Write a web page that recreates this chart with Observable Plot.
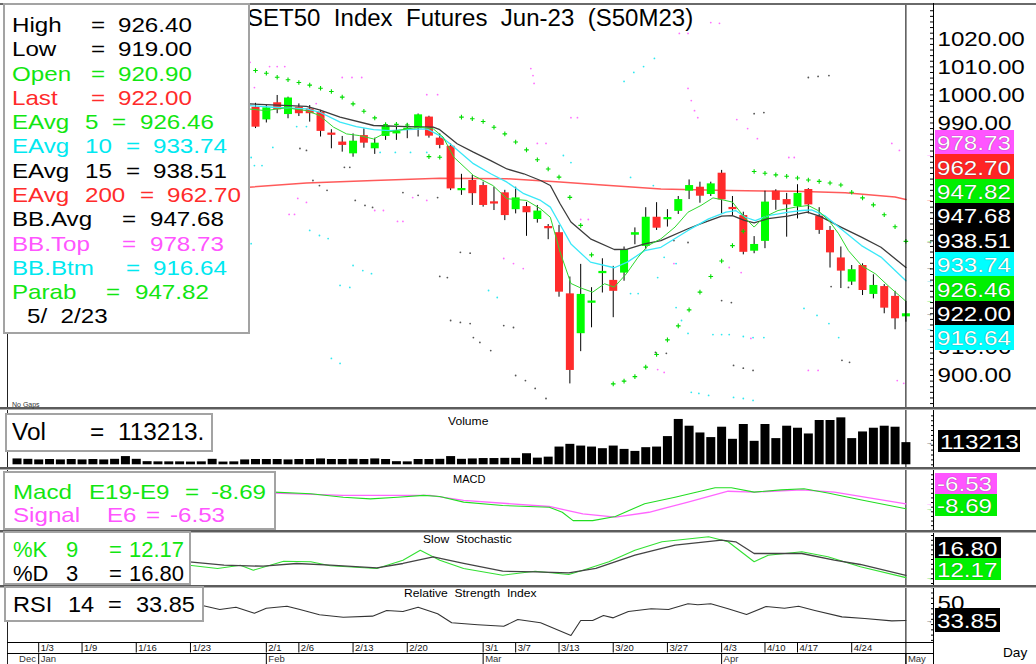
<!DOCTYPE html>
<html>
<head>
<meta charset="utf-8">
<script src="https://cdn.jsdelivr.net/npm/d3@7"></script>
<script src="https://cdn.jsdelivr.net/npm/@observablehq/plot@0.6"></script>
<style>
  html,body{margin:0;padding:0;background:#fff;}
  #chart{position:relative;width:1036px;height:664px;overflow:hidden;background:#fff;font-family:"Liberation Sans",Arial,Helvetica,sans-serif;}
  #chart svg{position:absolute;left:0;top:0;overflow:visible;}
  .t{position:absolute;white-space:pre;transform-origin:0 50%;}
  .box{position:absolute;box-sizing:border-box;background:#fff;}
  .ln{position:absolute;}
</style>
</head>
<body>
<div id="chart"></div>
<script>
// ================= DATA =================
// trading-day index: 0 = 1/3/2023 ... 80 = 5/2/2023
const candleIdx = d3.range(20, 81);
const opens = [995.6,991.1,997.2,993.0,995.6,995.0,993.9,986.4,983.2,979.0,
  985.5,980.8,985.2,986.1,987.5,987.9,992.1,984.6,981.7,965.9,
  969.5,967.7,961.8,965.1,959.1,960.2,955.6,953.1,950.9,929.1,
  914.9,925.8,936.3,933.9,936.5,950.0,946.0,956.4,955.6,958.5,
  965.7,967.1,964.5,972.1,959.8,957.0,944.3,947.8,965.7,962.7,
  960.2,966.3,956.8,951.7,941.9,933.3,939.2,928.9,931.7,928.2,920.9];
const highs = [997.0,996.2,999.8,999.2,996.8,996.2,994.5,987.6,985.2,986.1,
  987.9,984.6,989.7,989.1,989.7,993.2,992.4,986.1,982.5,971.7,
  971.3,968.9,967.1,966.0,967.1,961.7,960.6,953.8,953.5,935.1,
  939.6,931.3,941.6,938.9,945.8,952.6,959.8,961.6,959.1,963.8,
  969.7,968.9,968.9,973.1,963.8,958.2,949.5,965.7,966.2,964.9,
  968.0,966.6,959.8,953.1,945.8,939.2,939.8,935.9,932.4,930.0,926.4];
const lows = [988.0,990.0,993.3,991.5,992.3,990.3,985.0,980.8,979.6,977.8,
  981.0,978.8,983.8,983.8,984.4,985.0,984.6,980.8,965.9,964.2,
  960.6,960.0,958.8,955.2,957.6,949.6,954.3,948.4,927.9,897.0,
  908.5,917.0,929.4,920.6,933.6,946.6,944.8,951.7,952.9,957.4,
  962.7,961.4,963.8,957.6,957.0,943.0,943.4,945.2,958.9,949.3,
  955.8,957.6,950.3,938.3,931.0,932.1,928.5,927.3,922.0,916.3,919.0];
const closes = [988.5,995.4,994.7,998.9,993.3,993.3,987.0,985.6,982.0,983.5,
  982.8,982.8,988.9,987.0,988.0,992.9,985.3,982.0,966.5,966.6,
  964.8,960.6,961.2,957.0,963.3,958.0,958.6,952.3,929.7,901.8,
  928.9,926.5,937.1,930.0,944.8,950.9,956.4,952.5,956.2,962.7,
  967.7,963.9,968.3,962.6,959.2,943.9,946.7,961.8,962.4,960.8,
  964.9,960.8,951.7,943.7,937.2,937.7,930.3,932.1,924.0,920.2,922.0];

// moving averages: [day index, price]
const ema5 = [[19.4,995.0],[20.9,994.4],[22.8,995.4],[24.7,994.4],[25.9,992.7],[27.2,988.5],[28.4,986.1],[29.6,985.5],[30.9,984.3],[32.1,986.7],[34,987.9],[35.2,988.5],[36.4,987.9],[37.3,985.0],[38.3,977.8],[40.1,971.3],[41.9,967.7],[43.2,963.0],[45.0,962.4],[46.3,959.4],[47.2,956.4],[48.1,944.0],[49.1,932.8],[50,931.2],[51.1,929.7],[52.2,932.7],[53.1,931.5],[54.2,936.2],[55.3,942.2],[56.2,946.3],[57.4,948.7],[58.7,952.9],[59.9,958.2],[61.1,960.6],[62.2,963.3],[63.1,962.6],[64,961.8],[65.1,956.4],[66,952.9],[66.9,956.4],[68.2,958.8],[69.8,960.0],[71,960.6],[71.9,958.8],[72.9,955.2],[73.8,950.5],[74.7,944.5],[75.9,939.2],[77.2,936.2],[78.5,931.5],[80,926.46]];
const ema10 = [[19.4,996.2],[21.6,995.6],[24.7,995.0],[25.9,993.9],[27.8,990.3],[29.3,988.7],[30.9,987.6],[32.4,987.3],[34,987.6],[35.8,987.9],[37,985.5],[38.3,981.4],[40.1,975.5],[41.7,971.9],[43.2,968.9],[44.75,964.8],[46.3,962.4],[47.2,960.0],[48.1,953.8],[49.1,946.9],[50.9,940.4],[53.1,938.4],[54.3,940.4],[55.9,944.5],[57.4,945.7],[59.9,951.7],[61.8,955.8],[63.4,958.2],[64.3,958.8],[65.2,956.4],[66.1,955.2],[67.3,957.0],[69.2,958.2],[70.4,958.8],[71.3,959.0],[72.5,957.0],[74.0,952.3],[75.9,946.3],[77.7,942.2],[80,933.74]];
const ema15 = [[19.4,996.8],[24.7,995.9],[25.9,994.7],[27.8,992.1],[30.9,989.1],[34,988.7],[36.4,988.5],[37,987.6],[38.6,982.6],[40.1,979.6],[41.7,976.6],[43.2,973.6],[44.75,971.9],[46.3,969.5],[47.2,967.7],[48.1,961.2],[49.1,954.7],[50.9,948.7],[53.1,944.9],[54.3,945.0],[55.9,946.9],[57.4,948.1],[59.9,952.3],[61.1,954.1],[63,956.8],[64,957.0],[65.1,955.3],[66,954.4],[67.3,955.9],[69.1,956.8],[70.9,958.2],[72.1,956.7],[74,952.9],[75.9,949.3],[77.7,945.7],[80,938.51]];
const ema200 = [[19.4,967.1],[24.7,968.6],[30.9,969.5],[37,970.3],[43.2,970.1],[48.1,969.0],[52,967.9],[57.4,966.5],[63.6,965.9],[69.8,965.7],[74.4,965.1],[79,963.6],[80,962.7]];

// parabolic SAR: day index, value
const sarIdx = [20,21,22,23,24,25,26,27,28,29,30,31,32,33,34,36,37,39,40,41,42,43,44,45,46,47,48,49,50,51,53,54,55,56,57,58,59,60,61,62,63,64,65,66,67,68,69,70,71,72,73,74,75,76,77,78,79,80];
const sarVal = [1008.7,1007.7,1006.3,1005.4,1004.4,1003.5,1002.4,1001.2,999.2,996.8,994.2,991.8,989.4,989.5,989.3,978.0,977.8,992.1,991.5,990.5,988.5,986.1,983.2,980.4,976.9,973.6,970.7,963.5,953.5,943.0,897.0,898.0,899.6,903.0,907.5,912.7,917.7,923.4,929.7,935.3,940.8,946.3,951.4,972.7,972.1,971.5,971.0,970.4,969.7,969.2,968.6,967.9,965.3,963.3,960.8,957.3,953.0,947.82];

// Bollinger dotted traces as seen: [day index, price]
const bbTopDots = [[19.5,1011.6],[21.3,1010.1],[22.0,1010.1],[22.7,1010.1],[19.9,1002.6],[25.6,996.9],[28.0,1006.2],[28.9,1006.2],[29.8,1006.2],[35.8,1000.1],[36.8,1000.1],[45.4,1009.4],[45.6,1006.9],[45.7,1004.1],[23.9,963.1],[24.7,961.7],[23.1,957.4],[23.6,957.4],[31.0,958.8],[31.8,958.8],[33.1,954.9],[33.6,954.9],[34.5,963.4],[35.8,962.4],[42.9,941.7],[43.8,939.9],[44.7,938.1],[62.0,1025.8],[62.8,1025.5],[59.1,1021.9],[59.9,1021.9],[49.1,991.9],[49.7,991.9],[46.0,982.7],[46.8,982.7],[59.9,1002.3],[60.2,998.0],[60.5,994.4],[60.8,991.9],[64.4,991.2],[65.4,988.0],[66.3,984.4],[69.2,977.7],[69.7,977.7],[78.7,982.7],[79.4,980.2],[50.0,955.6],[50.7,955.6],[58.6,939.9],[63.7,938.5],[64.8,936.7],[57.1,902.1],[57.7,901.1],[65.7,913.2],[71.0,901.8],[71.9,901.8],[79.2,898.2],[79.8,897.2]];
const bbBtmDots = [[19.6,977.7],[21.6,981.3],[23.8,988.7],[24.7,988.7],[19.9,974.8],[20.6,974.8],[19.6,947.0],[25.0,951.7],[25.9,949.9],[26.7,948.8],[29.0,939.2],[29.9,937.4],[30.7,936.3],[27.8,932.1],[28.7,931.4],[27.0,906.1],[27.8,904.3],[31.5,979.5],[32.9,979.5],[34.3,979.5],[35.8,979.5],[41.5,930.3],[42.3,927.8],[49.1,975.9],[54.6,970.6],[56.7,967.7],[57.7,942.1],[58.8,939.9],[57.1,934.9],[54.6,929.2],[55.3,929.2],[58.8,924.2],[59.3,919.6],[59.9,915.0],[60.2,894.0],[60.9,893.6],[61.8,892.9],[62.2,914.6],[63.0,914.6],[63.7,914.6],[65.0,913.9],[65.9,913.5],[66.9,913.5],[64.1,892.2],[65.0,891.8],[65.9,891.1],[70.6,923.9],[71.8,921.4],[72.9,918.5],[73.8,913.5],[54.0,1004.8],[54.9,1008.0],[55.8,1010.1],[56.8,1013.0],[48.4,978.4]];
const bbAvgDots = [[24.1,980.9],[24.7,980.2],[28.2,974.2],[28.7,974.2],[25.3,969.5],[25.9,967.7],[26.6,966.0],[29.2,962.4],[30.1,960.6],[30.8,959.9],[33.6,965.2],[35.0,964.2],[36.8,963.4],[37.0,935.3],[37.7,934.9],[38.0,919.6],[38.9,918.9],[39.8,918.5],[38.9,943.9],[39.8,943.6],[40.1,913.5],[40.7,911.8],[41.7,908.9],[42.9,917.8],[43.8,917.1],[44.0,900.0],[44.9,898.2],[45.8,895.4],[46.8,891.8],[71.0,1006.2],[71.9,1006.6],[72.9,1006.9],[66.0,993.3],[66.9,993.7],[58.6,948.1],[59.9,947.4],[63.0,926.7],[63.9,926.0],[64.1,903.6],[65.0,902.6],[65.9,901.8],[73.1,931.7],[74.7,931.4],[74.1,905.4],[74.8,904.7],[56.9,908.2],[57.9,907.9]];

// volume (from 12/29 = index -2)
const volIdx = d3.range(-2, 81);
const volumes = [30000,28000,25000,27000,25000,27000,25000,27000,25000,28000,42000,28000,
  16000,15000,15000,15000,14000,15000,28000,14000,15000,25000,
  27000,27000,27000,25000,27000,27000,30000,27000,27000,28000,
  27000,30000,27000,16000,15000,27000,27000,28000,42000,28000,
  30000,32000,32000,33000,33000,
  56600,34000,39100,90600,104500,95700,90600,82300,95700,78700,
  68400,87500,90600,144100,231600,197100,162600,139000,192000,130200,
  205800,119900,205800,133800,197100,186800,157500,226400,226400,239800,
  133800,167800,186800,197100,192000,113213];

// MACD
const macdLine = [[21.7,-1.5],[25.1,-2.2],[28.1,-3.7],[30.6,-4.4],[33.1,-3.7],[35.5,-2.9],[37.0,-3.4],[39.2,-5.8],[42.8,-7.3],[47.1,-8.0],[48.3,-10.2],[49.3,-13.8],[51.1,-13.8],[53.2,-12.0],[55.9,-6.5],[58.7,-3.7],[62.4,0.4],[63.9,0.4],[66.0,-1.5],[68.5,-0.5],[70.6,0.0],[72.8,-1.9],[75.8,-4.8],[80,-8.69]];
const signalLine = [[21.7,-1.9],[28.1,-2.9],[36.1,-2.9],[39.2,-5.1],[47.1,-7.7],[50.2,-10.9],[53.2,-12.3],[56.3,-10.2],[59.9,-5.8],[63.6,-1.1],[66.0,-1.5],[70.4,-0.5],[73.4,-1.5],[80,-6.53]];

// Slow stochastic
const stochK = [[13.9,38.1],[16.5,31.3],[18.6,38.1],[19.8,27.7],[22.6,46.5],[25.1,45.2],[26.9,36.9],[31.2,31.3],[33.6,48.5],[35.2,69.4],[37.0,48.5],[39.2,31.3],[42.8,17.3],[45.8,25.6],[48.9,18.8],[50.2,27.7],[52.6,45.2],[55.0,69.4],[57.5,86.9],[61.8,97.3],[63.6,86.9],[66.0,45.2],[67.3,59.0],[70.4,66.0],[72.8,55.6],[75.8,34.8],[80,12.17]];
const stochD = [[13.9,45.2],[17.1,38.1],[20.7,36.0],[23.8,41.7],[26.9,38.1],[31.2,32.7],[33.6,41.7],[36.4,55.6],[39.2,41.7],[42.8,25.6],[45.8,24.4],[48.9,22.3],[51.4,31.3],[55.0,59.0],[58.7,79.8],[63.0,90.2],[64.3,86.9],[66.0,62.5],[70.4,62.5],[73.4,48.5],[75.8,39.6],[80,16.8]];

// RSI 14
const rsiLine = [[15.1,48.1],[16.7,44.3],[18.2,46.5],[19.9,40.8],[21.0,45.5],[22.9,47.4],[24.1,44.3],[25.9,39.3],[28.1,37.0],[30.8,38.0],[32.1,43.4],[33.6,42.4],[35.0,46.5],[36.8,40.2],[38.1,31.7],[40.5,29.8],[42.9,28.4],[44.2,34.8],[46.3,31.7],[49.1,19.6],[50.0,33.9],[51.1,33.9],[52.1,38.6],[53.0,36.4],[54.4,42.4],[56.5,45.0],[58.1,44.3],[59.9,49.7],[60.8,48.8],[62.0,49.7],[63.6,45.0],[65.3,39.6],[67.1,47.2],[68.8,45.5],[70.1,47.4],[71.6,43.4],[74.1,37.3],[76.2,35.8],[78.7,33.5],[80,33.85]];

// axis labels (those visible beside the value boxes)
const priceTicks = [900,910,990,1000,1010,1020];
const rsiTicks = [50];
const dayTickIdx = [0,4,9,14,21,24,29,34,41,44,48,53,58,63,67,70,75];
const dayTickLabels = ["1/3","1/9","1/16","1/23","2/1","2/6","2/13","2/20","3/1","3/7","3/13","3/20","3/27","4/3","4/10","4/17","4/24"];
const monthIdx = [-2,0,21,41,63,80];
const monthLabels = ["Dec","Jan","Feb","Mar","Apr","May"];

// text panels
const titleText = "SET50  Index  Futures  Jun-23  (S50M23)";
const legendNames = ["High","Low","Open","Last","EAvg","EAvg","EAvg","EAvg","BB.Avg","BB.Top","BB.Btm","Parab"];
const legendParams = ["","","","","5","10","15","200","","","",""];
const legendVals = ["926.40","919.00","920.90","922.00","926.46","933.74","938.51","962.70","947.68","978.73","916.64","947.82"];
const legendDate = "5/  2/23";
const lastLabels = ["978.73","962.70","947.82","947.68","938.51","933.74","926.46","922.00","916.64"];
const lastValues = [978.73,962.70,947.82,947.68,938.51,933.74,926.46,922.00,916.64];
const volLast = 113213;
const macdLast = [-6.53, -8.69];
const stochLast = [16.80, 12.17];
const rsiLast = 33.85;

// ================= STYLE / LAYOUT =================
const GREEN = "#00ee00", RED = "#ff2b2b", CYAN = "#00e8f0", MAG = "#ff55ff", BLK = "#000";
const legendColors = [BLK,BLK,"#11e611",RED,"#11e611",CYAN,BLK,RED,BLK,MAG,CYAN,"#11e611"];
const legendEqX = [91,91,91,91,112,126,126,140,122,122,126,106];
const legendValX = [118,118,118,118,140,153,153,167,150,150,153,135];
const lastColors = [MAG,"#ff2525","#00f000",BLK,BLK,"#00ffff","#00f000",BLK,"#00ffff"];
const arrowColors = [MAG,"#ff3030","#00dd00",BLK,BLK,"#00c8e0","#00dd00",BLK,"#00c8e0"];

const W = 1036, H = 664;
const chart = document.getElementById("chart");
const FONT = '"Liberation Sans", Arial, Helvetica, sans-serif';
const X = {domain: [0, 80], range: [38.2, 905.4], axis: null};

function layer(opts, top = 0, height = H) {
  const svg = Plot.plot({
    width: W, height,
    marginTop: 0, marginBottom: 0, marginLeft: 8, marginRight: 103,
    x: X,
    color: {type: "identity"},
    style: {background: "transparent", fontFamily: FONT, overflow: "visible"},
    ...opts
  });
  svg.style.top = top + "px";
  chart.appendChild(svg);
  return svg;
}
function stretch(svg, f) {
  svg.querySelectorAll("text").forEach(t => {
    if (t.textContent && t.textContent !== "→") {
      const L = t.getComputedTextLength();
      if (L > 0) { t.setAttribute("textLength", L * f); t.setAttribute("lengthAdjust", "spacingAndGlyphs"); }
    }
  });
}
function txt(str, left, cy, o = {}) {
  const size = o.size ?? 21, sx = o.sx ?? 1.15;
  const d = document.createElement("div");
  d.className = "t";
  d.textContent = str;
  d.style.left = left + "px";
  d.style.top = (cy - size / 2) + "px";
  d.style.fontSize = size + "px";
  d.style.lineHeight = size + "px";
  d.style.color = o.color ?? "#000";
  d.style.transform = `scaleX(${sx})`;
  if (o.shadow) d.style.textShadow = "0 0 1px rgba(0,0,0,.6)";
  chart.appendChild(d);
  return d;
}
function rect(left, top, w, h, bg, border) {
  const d = document.createElement("div");
  d.className = "box";
  d.style.cssText = `left:${left}px;top:${top}px;width:${w}px;height:${h}px;background:${bg};` + (border ? `border:${border};` : "");
  chart.appendChild(d);
  return d;
}
function valBox(str, left, top, w, h, bg) {
  rect(left, top, w, h, bg);
  txt(str, left + 2, top + h / 2 + 0.5, {size: 21, sx: 1.15, color: "#fff", shadow: true});
}
const px = d => d[0], py = d => d[1];
const arrow = (data, o = {}) => Plot.text(data, {y: "v", text: () => "→", fill: "c", frameAnchor: "right", textAnchor: "end", dx: -1, fontSize: 6.5, ...o});

// ================= MAIN PRICE PANEL =================
const candles = candleIdx.map((i, k) => ({i, open: opens[k], high: highs[k], low: lows[k], close: closes[k]}));
const minBody = 0.8;
const bodyHi = d => { const lo = Math.min(d.open, d.close), hi = Math.max(d.open, d.close); return hi + Math.max(0, minBody - (hi - lo)) / 2; };
const bodyLo = d => { const lo = Math.min(d.open, d.close), hi = Math.max(d.open, d.close); return lo - Math.max(0, minBody - (hi - lo)) / 2; };
const sar = sarIdx.map((i, k) => [i, sarVal[k]]);
const mainArrows = lastValues.map((v, k) => ({v, c: arrowColors[k]}));

const mainSvg = layer({
  y: {domain: [900, 1020], range: [375, 38.3], axis: null},
  marks: [
    Plot.dot(bbTopDots, {x: px, y: py, r: 0.9, fill: "#ff70ff"}),
    Plot.dot(bbBtmDots, {x: px, y: py, r: 0.9, fill: "#30e8f0"}),
    Plot.dot(bbAvgDots, {x: px, y: py, r: 0.9, fill: "#555"}),
    Plot.line(ema200, {x: px, y: py, stroke: "#ff5a5a", strokeWidth: 1.5}),
    Plot.ruleX(candles, {x: "i", y1: "low", y2: "high", stroke: "#000", strokeWidth: 1}),
    Plot.ruleX(candles.filter(d => d.close >= d.open), {x: "i", y1: bodyLo, y2: bodyHi, stroke: "#00ff00", strokeWidth: 8}),
    Plot.ruleX(candles.filter(d => d.close < d.open), {x: "i", y1: bodyLo, y2: bodyHi, stroke: RED, strokeWidth: 8}),
    Plot.line(ema15, {x: px, y: py, stroke: "#3c3c3c", strokeWidth: 1.3}),
    Plot.line(ema10, {x: px, y: py, stroke: "#3ae8f8", strokeWidth: 1.3}),
    Plot.line(ema5, {x: px, y: py, stroke: "#2fd82f", strokeWidth: 1}),
    Plot.dot(sar, {x: px, y: py, symbol: "plus", r: 1.6, stroke: "#00dd00", strokeWidth: 1.1}),
    Plot.ruleX([80], {stroke: "#000", strokeWidth: 1}),
    Plot.axisY({anchor: "right", ticks: d3.range(888, 1032, 2), tickSize: -4, tickFormat: () => "", label: null, stroke: "#000"}),
    Plot.text(priceTicks, {y: d => d, text: d => d.toFixed(2), frameAnchor: "right", textAnchor: "start", dx: 4, fontSize: 21, fill: "#000"}),
    arrow(mainArrows)
  ]
});
stretch(mainSvg, 1.15);

// ================= VOLUME =================
const vol = volIdx.map((i, k) => ({i, v: volumes[k]}));
layer({
  y: {domain: [0, 262000], range: [464.3, 413], axis: null},
  marks: [
    Plot.ruleX(vol, {x: "i", y1: 0, y2: "v", stroke: "#000", strokeWidth: 9}),
    Plot.axisY({anchor: "right", ticks: d3.range(0, 262001, 25000), tickSize: -3, tickFormat: () => "", label: null}),
    arrow([{v: volLast, c: "#000"}])
  ]
});

// ================= MACD =================
layer({
  y: {domain: [-18, 7], range: [529.8, 472], axis: null},
  marks: [
    Plot.line(signalLine, {x: px, y: py, stroke: "#ff66ff", strokeWidth: 1.3}),
    Plot.line(macdLine, {x: px, y: py, stroke: "#22dd22", strokeWidth: 1.1}),
    Plot.axisY({anchor: "right", ticks: d3.range(-18, 8, 2), tickSize: -3, tickFormat: () => "", label: null}),
    arrow([{v: macdLast[0], c: "#ff55ff"}, {v: macdLast[1], c: "#00cc00"}], {dy: 0})
  ]
});

// ================= SLOW STOCHASTIC =================
layer({
  y: {domain: [0, 100], range: [583, 535], axis: null},
  marks: [
    Plot.line(stochK, {x: px, y: py, stroke: "#33e033", strokeWidth: 1.1}),
    Plot.line(stochD, {x: px, y: py, stroke: "#444", strokeWidth: 1.3}),
    Plot.axisY({anchor: "right", ticks: d3.range(0, 101, 10), tickSize: -3, tickFormat: () => "", label: null}),
    arrow([{v: stochLast[1], c: "#00cc00"}])
  ]
});

// ================= RSI =================
const rsiSvg = layer({
  y: {domain: [15, 65], range: [639.9, 587.2], axis: null},
  marks: [
    Plot.line(rsiLine, {x: px, y: py, stroke: "#333", strokeWidth: 1.1}),
    Plot.axisY({anchor: "right", ticks: d3.range(15, 66, 5), tickSize: -3, tickFormat: () => "", label: null}),
    Plot.text(rsiTicks, {y: d => d, text: d => String(d), frameAnchor: "right", textAnchor: "start", dx: 4, fontSize: 21, fill: "#000"}),
    arrow([{v: rsiLast, c: "#000"}])
  ]
});
stretch(rsiSvg, 1.15);

// ================= DATE AXIS =================
const dayTicks = dayTickIdx.map((i, k) => ({i, l: dayTickLabels[k]}));
const months = monthIdx.map((i, k) => ({i, l: monthLabels[k]}));
layer({
  marks: [
    Plot.ruleX(dayTicks, {x: "i", stroke: "#000"}),
    Plot.text(dayTicks, {x: "i", text: "l", frameAnchor: "middle", textAnchor: "start", dx: 2, fontSize: 9.5, fill: "#111"})
  ]
}, 642, 10.5);
layer({
  marks: [
    Plot.ruleX(months.filter(d => d.l !== "Dec"), {x: "i", stroke: "#000"}),
    Plot.text(months, {x: "i", text: "l", frameAnchor: "middle", textAnchor: "start", dx: 2, fontSize: 9.5, fill: "#333"})
  ]
}, 652.5, 11.5);

// ================= FRAME LINES =================
function line(left, top, w, h, c) { const d = rect(left, top, w, h, c); d.className = "ln"; return d; }
line(0, 0, W, 3, "#fff");
line(0, 3, W, 2, "#6a6a6a");
line(7, 5, 1, 659, "#222");
line(933, 3, 1, 661, "#000");
[[406.5, 2], [466.5, 2], [529.5, 2], [584.5, 2]].forEach(([t, h]) => { line(0, t, W, h, "#5c5c5c"); line(0, t + h, W, 1, "#b0b0b0"); });
line(7, 641.5, 927, 1, "#000");
line(7, 652.5, 927, 1, "#000");

// ================= TEXT OVERLAYS =================
txt(titleText, 247, 18.5, {size: 23, sx: 1.045});
txt("No Gaps", 12, 404, {size: 7, sx: 1, color: "#333"});

// legend box
rect(3, 3, 247, 331, "#fff", "2px solid #a3a3a3");
legendNames.forEach((n, k) => {
  const cy = 24.5 + 24.28 * k, c = legendColors[k];
  txt(n, 12, cy, {color: c});
  if (legendParams[k]) txt(legendParams[k], 85, cy, {color: c});
  txt("=", legendEqX[k], cy, {color: c});
  txt(legendVals[k], legendValX[k], cy, {color: c});
});
txt(legendDate, 27, 24.5 + 24.28 * 12);

// right side current-value boxes (price panel)
lastLabels.forEach((s, k) => valBox(s, 935, 130 + 24.4 * k, 79, 24.4, lastColors[k]));

// volume label box
rect(5, 413, 208, 39, "#fff", "2px solid #a3a3a3");
txt("Vol", 12, 432.3, {size: 23, sx: 1.06});
txt("=", 90, 432.3, {size: 23, sx: 1.06});
txt(volLast + ".", 118, 432.3, {size: 23, sx: 1.06});
txt("Volume", 448, 421.7, {size: 11, sx: 1.1});
valBox(String(volLast), 938, 430, 82, 22, "#000");

// MACD box
rect(3, 471, 273, 59, "#fff", "2px solid #a3a3a3");
txt("Macd", 13, 491, {color: "#11e611"});
txt("E19-E9", 89, 491, {color: "#11e611"});
txt("=", 185, 491, {color: "#11e611"});
txt(macdLast[1].toFixed(2), 211, 491, {color: "#11e611"});
txt("Signal", 13, 514, {color: MAG});
txt("E6", 107, 514, {color: MAG});
txt("=", 146, 514, {color: MAG});
txt(macdLast[0].toFixed(2), 170, 514, {color: MAG});
txt("MACD", 453, 479.3, {size: 11, sx: 1.0});
valBox(macdLast[0].toFixed(2), 935, 472.5, 62, 21.5, "#ff55ff");
valBox(macdLast[1].toFixed(2), 935, 494, 62, 21.5, "#00f000");

// Stochastic box
rect(3, 531, 188, 54, "#fff", "2px solid #a3a3a3");
txt("%K", 13, 549.7, {size: 22, sx: 1.0, color: "#11e611"});
txt("9", 66, 549.7, {size: 22, sx: 1.0, color: "#11e611"});
txt("=", 109, 549.7, {size: 22, sx: 1.0, color: "#11e611"});
txt(stochLast[1].toFixed(2), 129, 549.7, {size: 22, sx: 1.0, color: "#11e611"});
txt("%D", 13, 573.7, {size: 22, sx: 1.0});
txt("3", 66, 573.7, {size: 22, sx: 1.0});
txt("=", 109, 573.7, {size: 22, sx: 1.0});
txt(stochLast[0].toFixed(2), 129, 573.7, {size: 22, sx: 1.0});
txt("Slow  Stochastic", 423, 539.5, {size: 11, sx: 1.1});
valBox(stochLast[0].toFixed(2), 935, 537, 66, 21, "#000");
valBox(stochLast[1].toFixed(2), 935, 558, 66, 22, "#00f000");

// RSI box
rect(4, 586, 200, 36, "#fff", "2px solid #a3a3a3");
txt("RSI", 13, 604.5, {size: 22, sx: 1.07});
txt("14", 68, 604.5, {size: 22, sx: 1.07});
txt("=", 108, 604.5, {size: 22, sx: 1.07});
txt(rsiLast.toFixed(2), 136, 604.5, {size: 22, sx: 1.07});
txt("Relative  Strength  Index", 404, 593, {size: 11, sx: 1.1});
valBox(rsiLast.toFixed(2), 935, 607.7, 65, 24.6, "#000");

txt("Day", 1003, 652.5, {size: 13, sx: 1.05});
</script>
</body>
</html>
